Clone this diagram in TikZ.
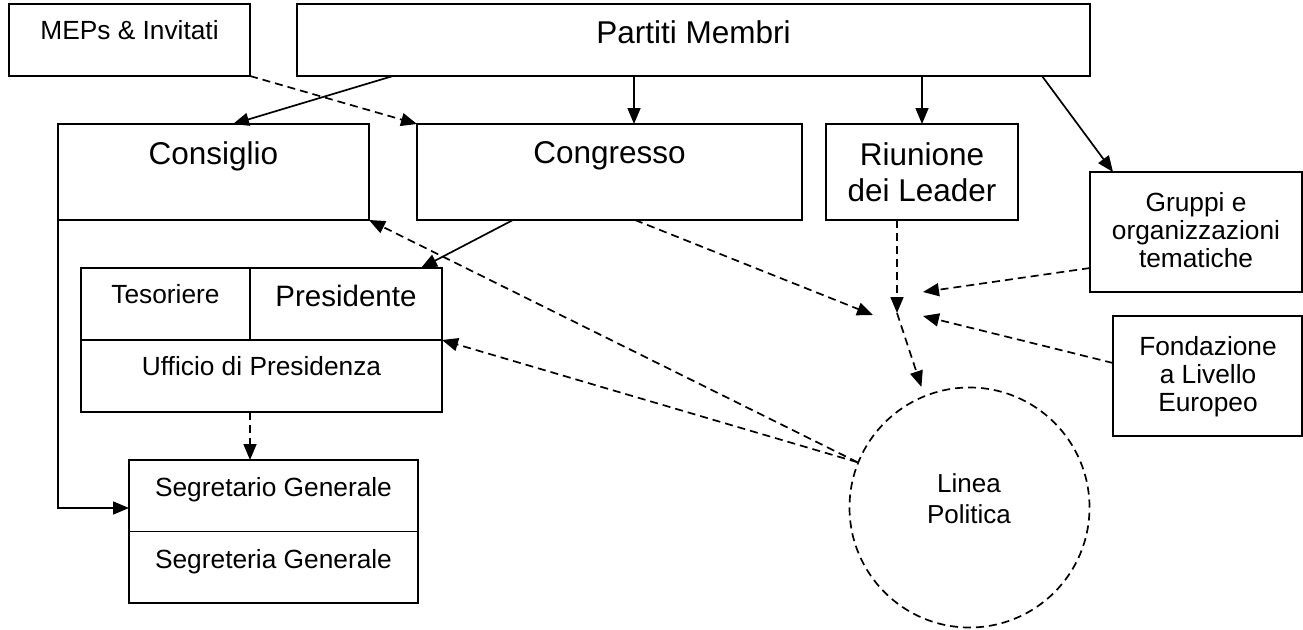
\documentclass[tikz,border=0pt]{standalone}
\usepackage{fontspec}
\setmainfont{Liberation Sans}
\usetikzlibrary{arrows.meta}

\tikzset{
    box/.style={draw, rectangle, line width=1.7pt, inner sep=0pt, outer sep=0pt},
    big/.style={font=\fontsize{31.5}{36.5}\selectfont, inner sep=0pt},
    small/.style={font=\fontsize{26.3}{28.3}\selectfont, inner sep=0pt},
    arr/.style={line width=1.7pt, -{Triangle[length=16pt,width=13pt]}},
    darr/.style={arr, dash pattern=on 8pt off 5pt},
}

\begin{document}
\begin{tikzpicture}[x=1pt, y=-1pt]
    \useasboundingbox (0,0) rectangle (1303,629);

    % Top row
    \node[box, anchor=north west, minimum width=241pt, minimum height=72pt] (meps) at (9,4) {};
    \node[small, anchor=base] (mepstxt) at (129.5,39.3) {MEPs \& Invitati};
    \node[box, anchor=north west, minimum width=793pt, minimum height=72pt] (partiti) at (297,4) {};
    \node[big, anchor=base] (partititxt) at (693.5,43.3) {Partiti Membri};

    % Second row
    \node[box, anchor=north west, minimum width=311pt, minimum height=96pt] (cons) at (58,124) {};
    \node[big, anchor=base] (constxt) at (213.3,164) {Consiglio};
    \node[box, anchor=north west, minimum width=385pt, minimum height=96pt] (congr) at (417,124) {};
    \node[big, anchor=base] (congrtxt) at (609.5,163.5) {Congresso};
    \node[box, anchor=north west, minimum width=192pt, minimum height=96pt] (riun) at (826,124) {};
    \node[big, align=center] (riuntxt) at (922,172) {Riunione\\dei Leader};

    % Right side
    \node[box, anchor=north west, minimum width=212pt, minimum height=120pt] (gruppi) at (1090,172) {};
    \node[small, align=center] (gruppitxt) at (1196,230.2) {Gruppi e\\organizzazioni\\tematiche};
    \node[box, anchor=north west, minimum width=189pt, minimum height=120pt] (fond) at (1113,316) {};
    \node[small, align=center] (fondtxt) at (1208,376.6) {Fondazione\\a Livello\\Europeo};

    % Presidenza
    \node[box, anchor=north west, minimum width=361pt, minimum height=144pt] (tes) at (81,268) {};
    \coordinate (tesmid) at ([xshift=169pt]tes.north west);
    \draw[line width=1.7pt] (tes.west) -- (tes.east);
    \draw[line width=1.7pt] (tesmid) -- (tesmid |- tes.west);
    \node[small, anchor=base] (testxt) at (165.5,303.3) {Tesoriere};
    \node[big, font=\fontsize{29.5}{34}\selectfont, anchor=base] (prestxt) at (346,306.7) {Presidente};
    \node[small, anchor=base] (uffxt) at (261.5,375) {Ufficio di Presidenza};

    % Segreteria
    \node[box, anchor=north west, minimum width=289pt, minimum height=143pt] (seg) at (129,460) {};
    \draw[line width=1.7pt] (seg.west) -- (seg.east);
    \node[small, anchor=base] (segtxt) at (273.5,496.5) {Segretario Generale};
    \node[small, anchor=base] (segrtxt) at (273.5,568.3) {Segreteria Generale};

    % Linea Politica
    \node[circle, draw, line width=1.7pt, dash pattern=on 8pt off 5pt, minimum size=240pt, inner sep=0pt] (lp) at (969.5,507.5) {};
    \node[font=\fontsize{26}{31}\selectfont, inner sep=0pt, align=center] (lptxt) at (969,498.3) {Linea\\Politica};

    % Solid connectors
    \draw[arr] ([xshift=96pt]partiti.south west) -- ([xshift=175pt]cons.north west);
    \coordinate (congrin) at ([xshift=217pt]congr.north west);
    \draw[arr] (congrin |- partiti.south) -- (congrin);
    \draw[arr] (riun.north |- partiti.south) -- (riun.north);
    \draw[arr] ([xshift=-48pt]partiti.south east) -- ([xshift=23pt]gruppi.north west);
    \draw[arr] ([xshift=96pt]congr.south west) -- ([xshift=-21pt]tes.north east);
    \draw[arr] (cons.south west) |- ([yshift=-48pt]seg.north west);

    % Dashed connectors
    \draw[darr] (meps.south east) -- (congr.north west);
    \draw[darr] (tesmid |- tes.south) -- (tesmid |- seg.north);

    % Inputs to the policy line
    \coordinate (mw) at (873,315);
    \coordinate (mn) at (897,313);
    \coordinate (mne) at (923,292);
    \coordinate (me) at (923,316);
    \draw[darr] ([xshift=218pt]congr.south west) -- (mw);
    \draw[darr] (mn |- riun.south) -- (mn);
    \draw[darr] ([yshift=24pt]gruppi.south west) -- (mne);
    \draw[darr] ([yshift=-47pt]fond.north west) -- (me);
    \draw[darr, shorten >=9pt] (mn) -- (lp.112);
    \draw[darr] (lp.158) -- (cons.south east);
    \draw[darr] (lp.158) -- (tes.east);
\end{tikzpicture}
\end{document}
